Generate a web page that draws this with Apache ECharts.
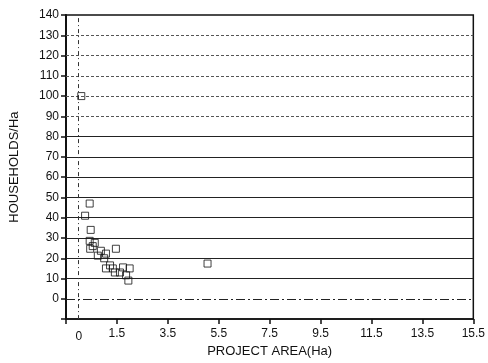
<!DOCTYPE html>
<html>
<head>
<meta charset="utf-8">
<script src="https://cdn.jsdelivr.net/npm/echarts@6/dist/echarts.min.js"></script>
<style>
  html, body { margin: 0; padding: 0; background: #fff; }
  #chart { width: 488px; height: 363px; }
</style>
</head>
<body>
<div id="chart"></div>
<script>
// project area (Ha) vs households per Ha
const areaHa = [0.1, 0.43, 0.25, 0.47, 0.43, 0.63, 0.45, 0.87, 1.07, 1.46, 0.75, 0.55, 1.0, 1.23, 1.34, 1.42, 1.74, 2.0, 1.62, 1.86, 1.07, 5.06, 1.95]
const households = [100, 47, 41, 34, 28.6, 27.6, 24.7, 23.7, 22.3, 24.7, 21.3, 26, 20, 16.5, 15, 13, 15.5, 15, 13, 11.6, 15, 17.4, 9]
const yTicks = [0, 10, 20, 30, 40, 50, 60, 70, 80, 90, 100, 110, 120, 130]

const FONT = '"Liberation Sans", Arial, sans-serif'
const INK = '#111'

const gridLineStyle = (v) => {
  if (v === 0) return { color: '#222', width: 1, type: [9, 3, 2, 3] }
  if (v >= 90) return { color: '#555', width: 1, type: [3, 2] }
  return { color: '#222', width: 1, type: 'solid' }
}

const chart = echarts.init(document.getElementById('chart'))

chart.setOption({
  animation: false,
  backgroundColor: '#fff',
  grid: { left: 63, right: 13, top: 15, bottom: 39, show: true, borderColor: INK, borderWidth: 1.5 },
  xAxis: {
    type: 'value',
    min: -0.5,
    max: 15.5,
    interval: 2,
    name: 'PROJECT AREA(Ha)',
    nameLocation: 'middle',
    nameGap: 25,
    nameTextStyle: { color: INK, fontFamily: FONT, fontSize: 13 },
    axisLine: { onZero: false, lineStyle: { color: INK, width: 1.5 } },
    axisTick: { length: 5, lineStyle: { color: INK, width: 1.5 } },
    axisLabel: {
      color: INK, fontFamily: FONT, fontSize: 12, margin: 9,
      formatter: (v) => (v < 0 ? '' : v.toFixed(1))
    },
    splitLine: { show: false }
  },
  yAxis: {
    type: 'value',
    min: -10,
    max: 140,
    interval: 10,
    name: 'HOUSEHOLDS/Ha',
    nameLocation: 'middle',
    nameGap: 45,
    nameTextStyle: { color: INK, fontFamily: FONT, fontSize: 13 },
    axisLine: { onZero: false, lineStyle: { color: INK, width: 2 } },
    axisTick: { length: 5, lineStyle: { color: INK, width: 1.5 } },
    axisLabel: {
      color: INK, fontFamily: FONT, fontSize: 12, margin: 7,
      formatter: (v) => (v < 0 ? '' : String(v))
    },
    splitLine: { show: false }
  },
  series: [
    {
      type: 'line',
      data: [],
      silent: true,
      markLine: {
        symbol: 'none',
        silent: true,
        label: { show: false },
        data: yTicks.map((v) => ({ yAxis: v, lineStyle: gridLineStyle(v) }))
      }
    },
    {
      type: 'line',
      data: [],
      silent: true,
      markLine: {
        symbol: 'none',
        silent: true,
        data: [{
          xAxis: 0,
          lineStyle: { color: '#333', width: 1, type: [4, 3, 1, 3] },
          label: {
            show: true, position: 'start', distance: 12,
            formatter: '0', color: INK, fontFamily: FONT, fontSize: 12
          }
        }]
      }
    },
    {
      type: 'scatter',
      symbol: 'rect',
      symbolSize: 7,
      itemStyle: { color: 'rgba(255,255,255,0)', borderColor: INK, borderWidth: 1 },
      data: areaHa.map((x, i) => [x, households[i]]),
      z: 5
    }
  ]
})
</script>
</body>
</html>
